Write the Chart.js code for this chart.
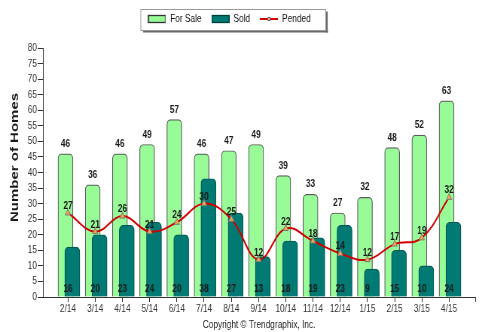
<!DOCTYPE html>
<html><head><meta charset="utf-8">
<script src="https://cdn.jsdelivr.net/npm/chart.js@4.4.1/dist/chart.umd.min.js"></script>
<style>
html,body{margin:0;padding:0;background:#fff;overflow:hidden;}
#wrap{width:482px;height:332px;overflow:hidden;background:#fff;}
#c{display:block;width:640px;height:332px;transform:scaleX(0.753125);transform-origin:0 0;}
</style></head><body>
<div id="wrap"><canvas id="c" width="640" height="332"></canvas></div>
<script>
const categories = ['2/14','3/14','4/14','5/14','6/14','7/14','8/14','9/14','10/14','11/14','12/14','1/15','2/15','3/15','4/15'];
const forSale = [46,36,46,49,57,46,47,49,39,33,27,32,48,52,63];
const sold    = [16,20,23,24,20,38,27,13,18,19,23,9,15,10,24];
const pended  = [27,21,26,21,24,30,25,12,22,18,14,12,17,19,32];
const yTickValues = [0,5,10,15,20,25,30,35,40,45,50,55,60,65,70,75,80];
const yTitle = 'Number of Homes';
const copyright = 'Copyright \u00A9 Trendgraphix, Inc.';

const FONT = '"Liberation Sans", Arial, sans-serif';
Chart.defaults.font.family = FONT;
Chart.defaults.color = '#333';

const FS_OFF = -0.092, SOLD_OFF = 0.16;
const LEGEND_SHIFT = 11;

function icon(kind) {
  const c = document.createElement('canvas');
  c.width = 24; c.height = 10;
  const g = c.getContext('2d');
  if (kind === 'line') {
    g.strokeStyle = '#D00000'; g.lineWidth = 2;
    g.beginPath(); g.moveTo(0, 5); g.lineTo(24, 5); g.stroke();
    g.fillStyle = '#E8C0A0'; g.strokeStyle = '#666'; g.lineWidth = 1;
    g.fillRect(10, 3, 4, 4); g.strokeRect(10.5, 3.5, 3, 3);
  } else {
    g.fillStyle = kind === 'fs' ? '#98FB98' : '#007A73';
    g.fillRect(0, 1, 24, 8);
    g.strokeStyle = kind === 'fs' ? '#333' : '#00403c'; g.lineWidth = 1.3;
    g.strokeRect(0.7, 1.5, 22.6, 7);
  }
  return c;
}
const legendIcons = [icon('fs'), icon('sold'), icon('line')];

const valueLabels = {
  id: 'valueLabels',
  afterLayout(chart) {
    const lg = chart.legend;
    if (lg) {
      lg.left -= LEGEND_SHIFT; lg.right -= LEGEND_SHIFT;
      (lg.legendHitBoxes || []).forEach(b => { b.left -= LEGEND_SHIFT; });
    }
  },
  afterDatasetsDraw(chart) {
    const ctx = chart.ctx, xs = chart.scales.x, ys = chart.scales.y;
    ctx.save();
    ctx.font = 'bold 11px ' + FONT;
    ctx.fillStyle = '#1a1a1a';
    ctx.textAlign = 'center';
    ctx.textBaseline = 'middle';
    chart.getDatasetMeta(0).data.forEach((el, i) => ctx.fillText(String(forSale[i]), el.x, el.y - 10));
    sold.forEach((v, i) => ctx.fillText(String(v), xs.getPixelForValue(i), ys.getPixelForValue(0) - 8));
    chart.getDatasetMeta(2).data.forEach((el, i) => ctx.fillText(String(pended[i]), el.x, el.y - 7));
    ctx.restore();
  },
  afterDraw(chart) {
    const ctx = chart.ctx;
    ctx.save();
    ctx.translate(20, 157.5);
    ctx.rotate(-Math.PI / 2);
    ctx.font = 'bold 15px ' + FONT;
    ctx.fillStyle = '#1a1a1a';
    ctx.textAlign = 'center';
    ctx.textBaseline = 'middle';
    ctx.fillText(yTitle, 0, 0);
    ctx.restore();
    const lg = chart.legend;
    const boxes = lg && lg.legendHitBoxes;
    if (boxes && boxes.length) {
      ctx.save();
      ctx.font = '11px ' + FONT;
      const last = boxes[boxes.length - 1];
      const lastText = lg.legendItems[lg.legendItems.length - 1].text;
      const l = boxes[0].left - 9.5;
      const r = last.left + 24 + 5.5 + ctx.measureText(lastText).width + 20;
      const cy = boxes[0].top + boxes[0].height / 2;
      const t = Math.round(cy - 10.5) + 0.5, h = 21;
      ctx.fillStyle = '#6a6a6a';
      ctx.fillRect(r, t + 2, 2.6, h);
      ctx.fillRect(l + 3, t + h, r - l, 2);
      ctx.strokeStyle = '#9a9a9a'; ctx.lineWidth = 1;
      ctx.strokeRect(l, t, r - l, h);
      ctx.restore();
    }
  }
};

new Chart(document.getElementById('c'), {
  type: 'bar',
  data: {
    datasets: [
      { type: 'bar', label: 'For Sale', order: 3,
        data: forSale.map((v, i) => ({ x: i + FS_OFF, y: v })),
        backgroundColor: '#98FB98', borderColor: '#5a5a5a', borderWidth: 1.2,
        borderRadius: 5, barThickness: 20, grouped: false },
      { type: 'bar', label: 'Sold', order: 2,
        data: sold.map((v, i) => ({ x: i + SOLD_OFF, y: v })),
        backgroundColor: '#007A73', borderColor: '#005a54', borderWidth: 1.2,
        borderRadius: 5, barThickness: 20, grouped: false },
      { type: 'line', label: 'Pended', order: 1,
        data: pended.map((v, i) => ({ x: i, y: v })),
        borderColor: '#D00000', borderWidth: 2, tension: 0.4, fill: false,
        pointStyle: 'triangle', pointRadius: 4, pointBackgroundColor: '#F4A24C',
        pointBorderColor: '#7a7a7a', pointBorderWidth: 1 }
    ]
  },
  options: {
    responsive: false,
    animation: false,
    devicePixelRatio: 1,
    layout: { padding: { top: 0.5, left: 0, right: 9, bottom: 0 } },
    plugins: {
      tooltip: { enabled: false },
      legend: {
        position: 'top', weight: 2000,
        labels: {
          usePointStyle: true, pointStyleWidth: 24, padding: 13,
          font: { size: 11 }, color: '#111',
          sort: (a, b) => a.datasetIndex - b.datasetIndex,
          generateLabels(chart) {
            const items = Chart.defaults.plugins.legend.labels.generateLabels(chart);
            items.forEach(it => { it.pointStyle = legendIcons[it.datasetIndex]; });
            return items;
          }
        }
      },
      subtitle: { display: true, text: '', position: 'top', weight: 1000,
        font: { size: 8, lineHeight: 1 }, padding: { top: 0, bottom: 5.5 } },
      title: { display: true, text: copyright, position: 'bottom', fullSize: false,
        font: { size: 11, weight: 'normal', lineHeight: 1.2 }, color: '#222',
        padding: { top: 2, bottom: 0 } }
    },
    scales: {
      x: {
        type: 'linear', min: -0.92, max: 14.96, offset: false,
        afterBuildTicks: s => { s.ticks = categories.map((_, i) => ({ value: i })).concat([{ value: s.max }]); },
        afterFit: s => { s.height = 19.8; },
        ticks: { autoSkip: false, maxRotation: 0, padding: 0, font: { size: 11 }, color: '#333',
          callback: v => (Number.isInteger(v) && categories[v] !== undefined) ? categories[v] : '' },
        grid: { offset: false, drawOnChartArea: false, drawTicks: true, tickLength: 5, color: '#333' },
        border: { color: '#333', width: 1 }
      },
      y: {
        min: 0, max: 80,
        afterBuildTicks: s => { s.ticks = yTickValues.map(v => ({ value: v })); },
        afterFit: s => { s.width = 57; },
        ticks: { autoSkip: false, padding: 1, font: { size: 11 }, color: '#333' },
        grid: { drawOnChartArea: false, drawTicks: true, tickLength: 7, color: '#333' },
        border: { color: '#333', width: 1 }
      }
    }
  },
  plugins: [valueLabels]
});
</script>
</body></html>
